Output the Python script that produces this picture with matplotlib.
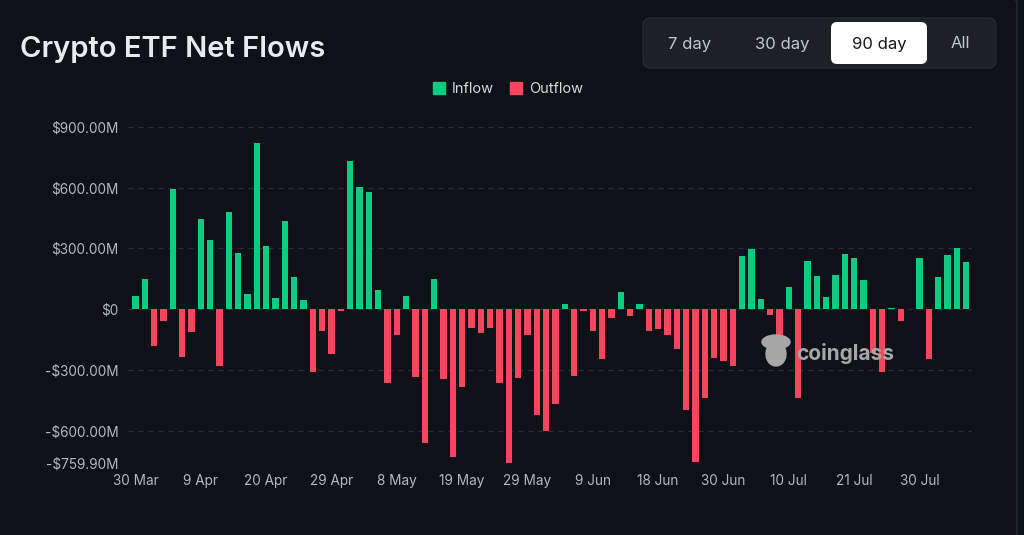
import numpy as np
import matplotlib
matplotlib.use('Agg')
import matplotlib.pyplot as plt
from matplotlib.patches import FancyBboxPatch, Patch, Ellipse
from matplotlib.transforms import IdentityTransform

# daily net flows, $M (one bar per trading day)
net_flows = [67, 149, -182, -60, 594, -236, -113, 445, 344, -280,
             478, 276, 74, 820, 314, 56, 437, 159, 44, -312,
             -106, -221, -7, 733, 602, 581, 93, -363, -129, 64,
             -337, -659, 150, -344, -731, -386, -95, -119, -95, -365,
             -759.9, -340, -129, -522, -602, -466, 26, -330, -8, -110,
             -247, -43, 83, -36, 26, -110, -97, -129, -196, -497,
             -755, -438, -239, -254, -281, 263, 296, 51, -28, -170,
             111, -438, 240, 164, 61, 170, 272, 252, 142, -215,
             -309, 4, -57, 0, 252, -247, 160, 267, 304, 234]
tick_labels = ['30 Mar', '9 Apr', '20 Apr', '29 Apr', '8 May', '19 May', '29 May',
               '9 Jun', '18 Jun', '30 Jun', '10 Jul', '21 Jul', '30 Jul']
label_step = 7
y_ticks = [900, 600, 300, 0, -300, -600, -759.9]
y_tick_labels = ['$900.00M', '$600.00M', '$300.00M', '$0', '-$300.00M', '-$600.00M', '-$759.90M']
ranges = ['7 day', '30 day', '90 day', 'All']
active_range = '90 day'

bg = '#0e1117'
green = '#0ecb81'
red = '#f6465d'
grid_c = '#2a2e36'
tick_c = '#b4b8bf'

plt.rcParams['font.family'] = ['Inter', 'DejaVu Sans']

fig = plt.figure(figsize=(10.24, 5.35), dpi=100, facecolor=bg)
px = IdentityTransform()

# card border
fig.patches.append(FancyBboxPatch((-20, -20), 1037, 560, boxstyle='round,pad=0,rounding_size=10',
                                  transform=px, facecolor=bg, edgecolor='#262a31', lw=1.2, zorder=-5))

ax = fig.add_axes([0.125, 0.1346, 0.824, 0.628])
ax.set_facecolor('none')

x = np.arange(len(net_flows))
vals = np.array(net_flows)
colors = [green if v >= 0 else red for v in vals]
ax.bar(x, vals, width=0.68, color=colors, zorder=3)

ax.set_xlim(-0.8, len(net_flows) - 0.4)
ax.set_ylim(min(y_ticks), 900)
ax.set_yticks(y_ticks)
ax.set_yticklabels(y_tick_labels)
ax.set_xticks(x[::label_step])
ax.set_xticklabels(tick_labels)
ax.tick_params(axis='both', length=0, colors=tick_c, labelsize=9.8)
ax.tick_params(axis='y', pad=7)
ax.tick_params(axis='x', pad=8)
ax.yaxis.grid(True, linestyle=(0, (4, 4)), color=grid_c, lw=0.9, zorder=0)
for s in ax.spines.values():
    s.set_visible(False)

# title
fig.text(20, 535 - 57, 'Crypto ETF Net Flows', transform=px, color='#e8eaed',
         fontsize=21, fontweight='semibold', ha='left', va='baseline')

# legend
fig.legend(handles=[Patch(color=green, label='Inflow'), Patch(color=red, label='Outflow')],
           loc='center', bbox_to_anchor=(0.496, 0.834), ncol=2, frameon=False,
           handlelength=0.8, handleheight=0.9, handletextpad=0.5, columnspacing=1.1,
           labelcolor='#d5d8dc', fontsize=10.5)

# range selector
fig.patches.append(FancyBboxPatch((643, 467), 353, 50, boxstyle='round,pad=0,rounding_size=8',
                                  transform=px, facecolor='#1d2027', edgecolor='#262a31', lw=1, zorder=2))
fig.patches.append(FancyBboxPatch((831, 471), 96, 42, boxstyle='round,pad=0,rounding_size=6',
                                  transform=px, facecolor='white', edgecolor='none', zorder=3))
btn_x = [690, 782, 879, 960]
for lbl, bx in zip(ranges, btn_x):
    fig.text(bx, 535 - 44, lbl, transform=px, ha='center', va='center', fontsize=12,
             color='#16181d' if lbl == active_range else '#c3c7ce', zorder=4)

# watermark
wm = '#a6a6a6'
fig.patches.append(Ellipse((776, 535 - 354), 20, 24, transform=px, color=wm, zorder=6))
fig.patches.append(Ellipse((776, 535 - 342), 28, 14, transform=px, color=wm, zorder=6))
fig.text(796, 535 - 353, 'coinglass', transform=px, color=wm, fontsize=15,
         fontweight='bold', ha='left', va='center', zorder=7)

fig.savefig('out.png', dpi=100, facecolor=bg)
